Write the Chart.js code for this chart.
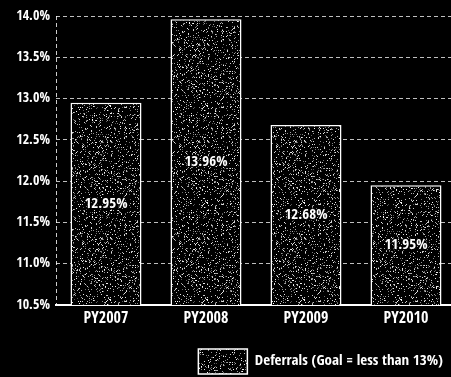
<!DOCTYPE html>
<html>
<head>
<meta charset="utf-8">
<script src="https://cdn.jsdelivr.net/npm/chart.js@4/dist/chart.umd.min.js"></script>
<style>
  html, body { margin: 0; padding: 0; background: #000; overflow: hidden; }
  #wrap { width: 460px; height: 384px; }
</style>
</head>
<body>
<div id="wrap"><canvas id="c" width="460" height="384"></canvas></div>
<script>
// Deferral rates by program year
const categories = ['PY2007', 'PY2008', 'PY2009', 'PY2010'];
const deferrals = [12.95, 13.96, 12.68, 11.95];
const seriesLabel = 'Deferrals (Goal = less than 13%)';
const yTicks = [10.5, 11.0, 11.5, 12.0, 12.5, 13.0, 13.5, 14.0];

const FONT = '"Open Sans Condensed", "Roboto Condensed", "DejaVu Sans Condensed", sans-serif';

// Speckled fill for the bars (deterministic hash noise on black)
function speckle() {
  const size = 97;
  const cv = document.createElement('canvas');
  cv.width = size; cv.height = size;
  const g = cv.getContext('2d');
  const img = g.createImageData(size, size);
  const hash = (x, y) => {
    let n = Math.imul(x, 374761393) + Math.imul(y, 668265263);
    n = Math.imul(n ^ (n >>> 13), 1274126177);
    n = n ^ (n >>> 16);
    return (n >>> 0) / 4294967296;
  };
  for (let y = 0; y < size; y++) {
    for (let x = 0; x < size; x++) {
      const h = hash(x + 11, y + 7);
      let v = 0;
      if (h < 0.14) v = 80 + Math.floor(h / 0.14 * 175);
      const i = (y * size + x) * 4;
      img.data[i] = v; img.data[i + 1] = v; img.data[i + 2] = v; img.data[i + 3] = 255;
    }
  }
  g.putImageData(img, 0, 0);
  return g.createPattern(cv, 'repeat');
}
const barFill = speckle();

// Writes each bar's value in the middle of its visible part
const valueLabels = {
  id: 'valueLabels',
  afterDatasetsDraw(chart) {
    const ctx = chart.ctx;
    const meta = chart.getDatasetMeta(0);
    const values = chart.data.datasets[0].data;
    const bottom = chart.chartArea.bottom;
    ctx.save();
    ctx.font = '15px "Open Sans Condensed", "Roboto Condensed", sans-serif';
    ctx.textAlign = 'center';
    ctx.textBaseline = 'middle';
    ctx.lineJoin = 'round';
    meta.data.forEach((bar, i) => {
      const p = bar.getProps(['x', 'y', 'base'], true);
      const text = Number(values[i]).toFixed(2) + '%';
      const cy = (p.y + Math.min(p.base, bottom)) / 2;
      ctx.strokeStyle = 'rgba(0,0,0,0.8)';
      ctx.lineWidth = 3;
      ctx.strokeText(text, p.x, cy);
      ctx.fillStyle = '#fff';
      ctx.fillText(text, p.x, cy);
    });
    ctx.restore();
  }
};

new Chart(document.getElementById('c'), {
  type: 'bar',
  data: {
    labels: categories,
    datasets: [{
      label: seriesLabel,
      data: deferrals,
      backgroundColor: barFill,
      borderColor: '#fff',
      borderWidth: 1.5,
      barPercentage: 0.71,
      categoryPercentage: 1.0
    }]
  },
  options: {
    responsive: false,
    animation: false,
    layout: { padding: { left: 0, right: 4, top: 16, bottom: 0 } },
    plugins: {
      tooltip: { enabled: false },
      legend: {
        position: 'bottom',
        align: 'end',
        labels: {
          color: '#fff',
          font: { family: FONT, size: 15, weight: 'bold' },
          boxWidth: 49,
          boxHeight: 25,
          padding: 13
        }
      }
    },
    scales: {
      x: {
        grid: {
          drawTicks: false,
          lineWidth: 1,
          color: (c) => c.index === 0 ? 'rgba(255,255,255,0.8)' : 'rgba(0,0,0,0)'
        },
        border: { display: true, color: '#fff', width: 2, dash: [4, 3] },
        ticks: {
          color: '#fff',
          padding: 4,
          font: { family: FONT, size: 16, weight: 'bold' }
        },
        afterFit(scale) { scale.height = 31; }
      },
      y: {
        min: yTicks[0],
        max: yTicks[yTicks.length - 1],
        afterBuildTicks(scale) { scale.ticks = yTicks.map(v => ({ value: v })); },
        grid: {
          drawTicks: false,
          color: 'rgba(255,255,255,0.75)',
          lineWidth: 1
        },
        border: { display: false, dash: [4, 3] },
        ticks: {
          color: '#fff',
          padding: 6,
          font: { family: FONT, size: 14, weight: 'bold' },
          callback: (v) => Number(v).toFixed(1) + '%'
        },
        afterFit(scale) { scale.width = 56; }
      }
    }
  },
  plugins: [valueLabels]
});
</script>
</body>
</html>
